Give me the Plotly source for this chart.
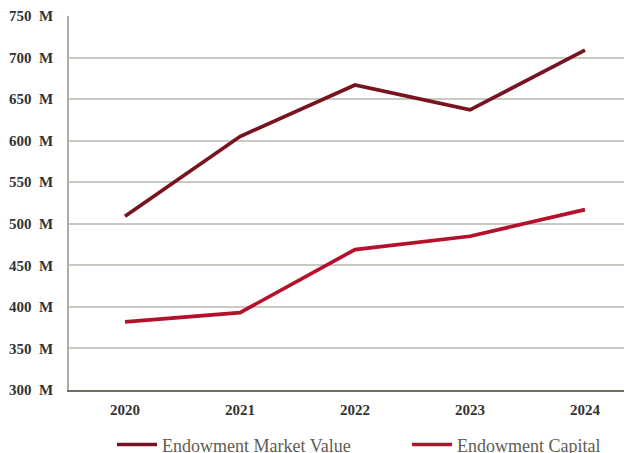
import plotly.graph_objects as go

years = ["2020", "2021", "2022", "2023", "2024"]
market_value = [509, 605, 667, 637, 709]
capital = [382, 393, 469, 485, 517]
y_ticks = [300, 350, 400, 450, 500, 550, 600, 650, 700, 750]
y_tick_labels = [f"{v}  M" for v in y_ticks]

FONT = "Liberation Serif"

fig = go.Figure()
fig.add_trace(go.Scatter(x=list(range(len(years))), y=market_value, mode="lines",
                         name="Endowment Market Value", legend="legend",
                         line=dict(color="#771420", width=3.7)))
fig.add_trace(go.Scatter(x=list(range(len(years))), y=capital, mode="lines",
                         name="Endowment Capital", legend="legend2",
                         line=dict(color="#b5102c", width=3.7)))

legend_common = dict(orientation="h", xanchor="left", y=-0.097, yanchor="top",
                     font=dict(family=FONT, size=18, color="#5d5d52"),
                     itemwidth=40,
                     bgcolor="rgba(0,0,0,0)", borderwidth=0)

# the page body adds an 8px offset, so the figure is 8px smaller in each direction
fig.update_layout(
    width=624, height=445,
    margin=dict(l=61, r=0, t=8, b=63, autoexpand=False),
    paper_bgcolor="white", plot_bgcolor="white",
    font=dict(family=FONT, size=15, color="#333333"),
    showlegend=True,
    legend=dict(x=(112 - 69) / 563, **legend_common),
    legend2=dict(x=(407 - 69) / 563, **legend_common),
    xaxis=dict(range=[-0.487, 4.409], tickmode="array",
               tickvals=list(range(len(years))), ticktext=years,
               showgrid=False, zeroline=False, automargin=False,
               showline=True, linecolor="#6e6e64", linewidth=1.5,
               ticks="", ticklabelstandoff=5,
               tickfont=dict(family=FONT, size=15, color="#333333", weight="bold")),
    yaxis=dict(range=[300, 750], tickmode="array", tickvals=y_ticks,
               ticktext=y_tick_labels, automargin=False,
               showgrid=True, gridcolor="#c9c9c1", gridwidth=1.5,
               zeroline=False, showline=True, linecolor="#aeaea6", linewidth=1.5,
               ticks="", ticklabelstandoff=11,
               tickfont=dict(family=FONT, size=15, color="#333333", weight="bold")),
)

fig.write_html("out.html")
